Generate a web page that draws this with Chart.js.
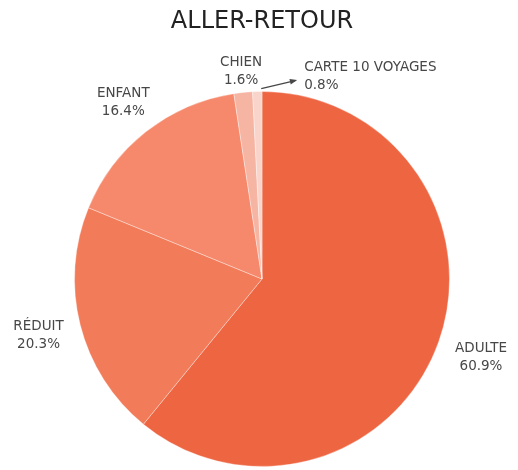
<!DOCTYPE html>
<html>
<head>
<meta charset="utf-8">
<script src="https://cdn.jsdelivr.net/npm/chart.js@4"></script>
<style>
html,body{margin:0;padding:0;background:#fff;}
#wrap{width:518px;height:470px;position:relative;}
</style>
</head>
<body>
<div id="wrap"><canvas id="c" width="518" height="470"></canvas></div>
<script>
const title = "ALLER-RETOUR";
const categories = ["ADULTE", "RÉDUIT", "ENFANT", "CHIEN", "CARTE 10 VOYAGES"];
const values = [60.9, 20.3, 16.4, 1.6, 0.8];
const valueLabels = ["60.9%", "20.3%", "16.4%", "1.6%", "0.8%"];
const colors = ["#EE6541", "#F27C5A", "#F6896C", "#F6B4A3", "#F9D4CA"];

const FONT = "'DejaVu Sans', sans-serif";

const labelPlugin = {
  id: 'sliceLabels',
  afterDraw(chart) {
    const ctx = chart.ctx;
    const meta = chart.getDatasetMeta(0);
    ctx.save();
    ctx.fillStyle = '#222';
    ctx.font = "24px " + FONT;
    ctx.textAlign = 'center';
    ctx.textBaseline = 'middle';
    ctx.fillText(title, 262, 22);

    ctx.font = "13.5px " + FONT;
    ctx.fillStyle = '#474747';
    const offsets = [45, 43, 37, 21, 0];
    meta.data.forEach((arc, i) => {
      const p = arc.getProps(['x','y','startAngle','endAngle','outerRadius'], true);
      const mid = (p.startAngle + p.endAngle) / 2;
      if (i === categories.length - 1) {
        const sx = p.x + Math.cos(mid) * (p.outerRadius + 3) + 4;
        const sy = p.y + Math.sin(mid) * (p.outerRadius + 3);
        const ex = sx + 34, ey = sy - 8;
        ctx.strokeStyle = '#474747';
        ctx.lineWidth = 1.3;
        ctx.beginPath();
        ctx.moveTo(sx, sy);
        ctx.lineTo(ex, ey);
        ctx.stroke();
        const ang = Math.atan2(ey - sy, ex - sx);
        ctx.beginPath();
        ctx.moveTo(ex + Math.cos(ang) * 2, ey + Math.sin(ang) * 2);
        ctx.lineTo(ex - Math.cos(ang - 0.5) * 6, ey - Math.sin(ang - 0.5) * 6);
        ctx.lineTo(ex - Math.cos(ang + 0.5) * 6, ey - Math.sin(ang + 0.5) * 6);
        ctx.closePath();
        ctx.fillStyle = '#474747';
        ctx.fill();
        ctx.textAlign = 'left';
        ctx.fillText(categories[i], ex + 9, ey - 13);
        ctx.fillText(valueLabels[i], ex + 9, ey + 5);
        return;
      }
      const R = p.outerRadius + offsets[i];
      const cx = p.x + Math.cos(mid) * R;
      const cy = p.y + Math.sin(mid) * R;
      ctx.textAlign = 'center';
      ctx.fillText(categories[i], cx, cy - 9);
      ctx.fillText(valueLabels[i], cx, cy + 9);
    });
    ctx.restore();
  }
};

new Chart(document.getElementById('c'), {
  type: 'pie',
  data: {
    labels: categories,
    datasets: [{
      data: values,
      backgroundColor: colors,
      borderColor: 'rgba(255,255,255,0.35)',
      borderWidth: 1
    }]
  },
  options: {
    responsive: false,
    animation: false,
    layout: { padding: { top: 91, bottom: 3, left: 6, right: 0 } },
    plugins: {
      legend: { display: false },
      tooltip: { enabled: false },
      title: { display: false }
    }
  },
  plugins: [labelPlugin]
});
</script>
</body>
</html>
